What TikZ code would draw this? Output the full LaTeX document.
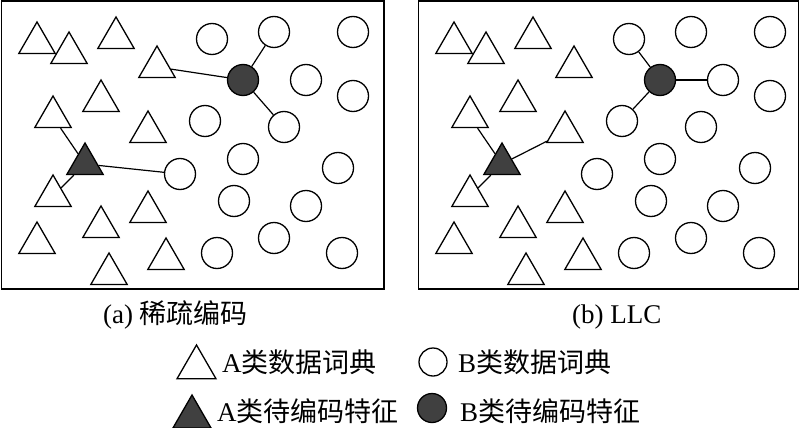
\documentclass[tikz,border=0pt]{standalone}
\usepackage{fontspec}
\setmainfont{Liberation Serif}
\newfontfamily\cjk{Noto Sans CJK SC}
\usetikzlibrary{shapes.geometric}
\definecolor{darkf}{RGB}{64,64,64}
\begin{document}
\begin{tikzpicture}[x=1pt,y=-1pt,
  tri/.style={regular polygon, regular polygon sides=3, draw, line width=1.3pt, minimum size=42pt, inner sep=0pt, fill=white},
  ftri/.style={tri, fill=darkf},
  cir/.style={circle, draw, line width=1.3pt, minimum size=31pt, inner sep=0pt, fill=white},
  fcir/.style={cir, fill=darkf},
  panel/.style={draw, line width=1.5pt},
  link/.style={line width=1.2pt},
  lbl/.style={anchor=base west, inner sep=0pt, font=\fontsize{27}{27}\selectfont}]
\useasboundingbox (0,0) rectangle (800,428);
\draw[panel] (1.5,1) rectangle (384,289);
\draw[panel] (418.5,1) rectangle (798.5,289);
\foreach \p/\dx in {a/0,b/417}{
  \foreach \i/\x/\y in {1/37/43, 2/69/53, 3/116/38, 4/157/67, 5/101/101, 6/53/117, 7/148/132,
                        9/53/196, 10/148/212, 11/101/227, 12/37/243, 13/166/259, 14/109/274}
    \node[tri] (\p t\i) at (\x+\dx,\y) {};
  \node[ftri] (\p tf) at (85+\dx,164) {};
  \foreach \i/\x/\y in {1/212/39, 2/274/32, 3/353/32, 5/306/80, 6/353/96, 7/205/121, 8/284/127,
                        9/243/159, 10/180/174, 11/338/168, 12/234/201, 13/306/206, 14/274/238,
                        15/217/253, 16/342/253}
    \node[cir] (\p c\i) at (\x+\dx,\y) {};
  \node[fcir] (\p cf) at (243+\dx,80) {};
}
\draw[link] (atf) -- (at6);
\draw[link] (atf) -- (at9);
\draw[link] (atf) -- (ac10);
\draw[link] (acf) -- (at4);
\draw[link] (acf) -- (ac2);
\draw[link] (acf) -- (ac8);
\draw[link] (btf) -- (bt6);
\draw[link] (btf) -- (bt9);
\draw[link] (btf) -- (bt7);
\draw[link] (bcf) -- (bc1);
\draw[link] (bcf) -- (bc5);
\draw[link] (bcf) -- (bc7);
% captions
\node[lbl] (capa) at (103,323) {(a) {\cjk 稀疏编码}};
\node[lbl] (capb) at (572,323) {(b) LLC};
% legend
\node[tri, minimum size=45pt] (lt) at (196.5,367.5) {};
\node[ftri, minimum size=44pt] (lft) at (192,417) {};
\node[cir, minimum size=28pt] (lc) at (433,362) {};
\node[fcir, minimum size=29pt] (lfc) at (432,408) {};
\node[lbl] (lta) at (222,372) {A{\cjk 类数据词典}};
\node[lbl] (ltb) at (217,421) {A{\cjk 类待编码特征}};
\node[lbl] (lca) at (458,372) {B{\cjk 类数据词典}};
\node[lbl] (lcb) at (460,421) {B{\cjk 类待编码特征}};
\end{tikzpicture}
\end{document}
